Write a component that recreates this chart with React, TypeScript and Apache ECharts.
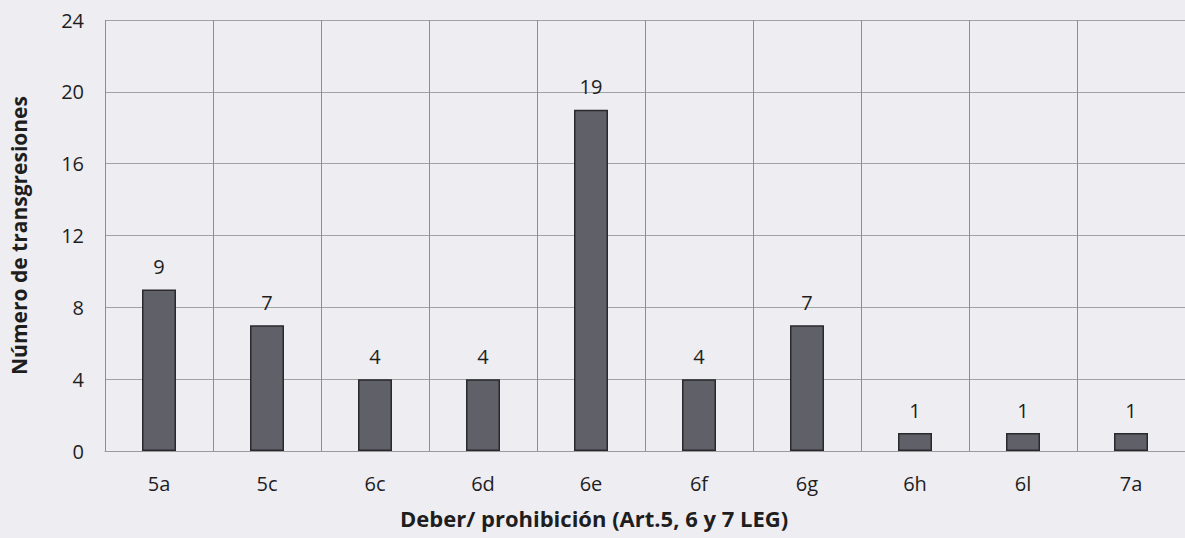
import React, { useEffect, useRef } from "react";
import * as echarts from "echarts";

const categories = ["5a", "5c", "6c", "6d", "6e", "6f", "6g", "6h", "6l", "7a"];
const values = [9, 7, 4, 4, 19, 4, 7, 1, 1, 1];
const yTicks = { min: 0, max: 24, interval: 4 };
const yTitle = "Número de transgresiones";
const xTitle = "Deber/ prohibición (Art.5, 6 y 7 LEG)";

export default function App() {
  const ref = useRef<HTMLDivElement>(null);
  useEffect(() => {
    document.body.style.margin = "0";
    const chart = echarts.init(ref.current!, undefined, { renderer: "svg" });
    const font = "'Open Sans', 'DejaVu Sans', sans-serif";
    chart.setOption({
      animation: false,
      backgroundColor: "#eeedf2",
      textStyle: { fontFamily: font },
      grid: { left: 102, top: 20, width: 1092, height: 431, containLabel: false },
      xAxis: {
        type: "category",
        data: categories,
        axisTick: { show: false },
        axisLine: { lineStyle: { color: "#9a9a9a", width: 1 } },
        axisLabel: { color: "#1e1e1e", fontSize: 20, margin: 22, fontFamily: font },
        splitLine: { show: true, lineStyle: { color: "#8e8e8e", width: 1 } },
      },
      yAxis: {
        type: "value",
        min: yTicks.min,
        max: yTicks.max,
        interval: yTicks.interval,
        name: yTitle,
        nameLocation: "middle",
        nameGap: 76,
        nameTextStyle: { color: "#1e1e1e", fontSize: 21, fontWeight: "bold", fontFamily: font },
        axisLine: { show: false },
        axisTick: { show: false },
        axisLabel: { color: "#1e1e1e", fontSize: 20, margin: 21, fontFamily: font },
        splitLine: { show: true, lineStyle: { color: "#a2a2a2", width: 1.2 } },
      },
      graphic: [
        {
          type: "text",
          left: 400,
          top: 507,
          style: {
            text: xTitle,
            fill: "#1e1e1e",
            font: "bold 22px 'Open Sans', sans-serif",
          },
        },
      ],
      series: [
        {
          type: "bar",
          data: values,
          barWidth: 34,
          itemStyle: { color: "#5f6068", borderColor: "#2a2a2e", borderWidth: 1.5 },
          label: {
            show: true,
            position: "top",
            distance: 13,
            color: "#1e1e1e",
            fontSize: 20,
            fontFamily: font,
          },
        },
      ],
    });
    return () => chart.dispose();
  }, []);
  return (
    <div
      ref={ref}
      style={{ position: "fixed", left: 0, top: 0, width: 1185, height: 538 }}
    />
  );
}
